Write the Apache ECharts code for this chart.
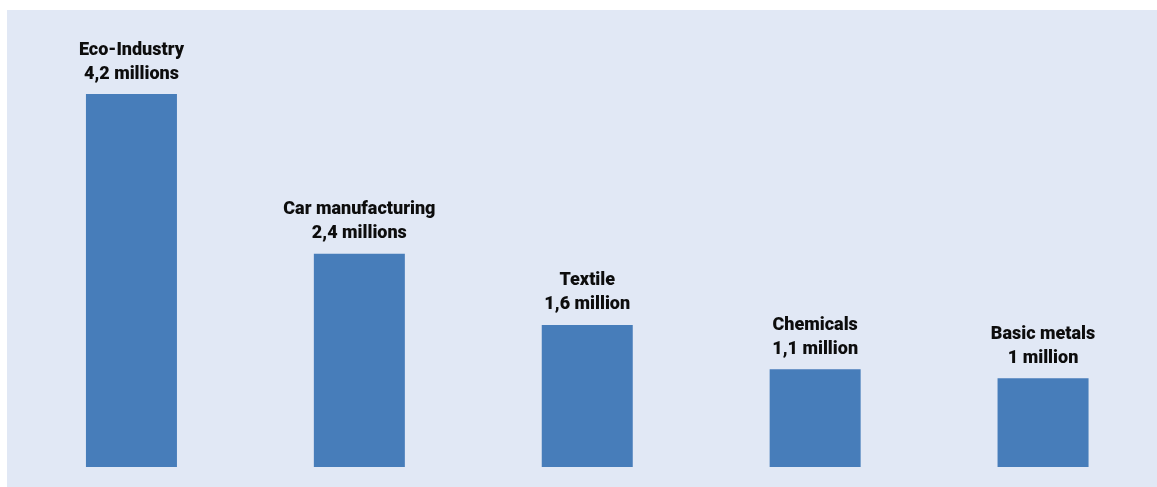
<!DOCTYPE html>
<html>
<head>
<meta charset="utf-8">
<script src="https://cdn.jsdelivr.net/npm/echarts@6/dist/echarts.min.js"></script>
<style>
  html, body { margin: 0; padding: 0; background: #ffffff; }
  #chart { width: 1157px; height: 487px; }
</style>
</head>
<body>
<div id="chart"></div>
<script>
// Jobs by industry (millions)
const sectors = ['Eco-Industry', 'Car manufacturing', 'Textile', 'Chemicals', 'Basic metals'];
const jobs = [4.2, 2.4, 1.6, 1.1, 1];
const units = ['millions', 'millions', 'million', 'million', 'million'];

const chart = echarts.init(document.getElementById('chart'));

function valueText(v, i) {
  return String(v).replace('.', ',') + ' ' + units[i];
}

chart.setOption({
  animation: false,
  graphic: [{
    type: 'rect',
    left: 7, top: 10,
    shape: { width: 1150, height: 477 },
    style: { fill: '#e1e8f5' },
    silent: true,
    z: -10
  }],
  grid: { left: 17.5, right: -0.5, top: 94, bottom: 20 },
  xAxis: {
    type: 'category',
    data: sectors,
    axisLine: { show: false },
    axisTick: { show: false },
    axisLabel: { show: false }
  },
  yAxis: {
    type: 'value',
    min: 0,
    max: 4.2,
    show: false,
    splitLine: { show: false }
  },
  series: [{
    type: 'bar',
    data: jobs,
    barWidth: 91,
    itemStyle: { color: '#477dba' },
    label: {
      show: true,
      position: 'top',
      distance: 8,
      fontFamily: 'Roboto',
      fontWeight: 900,
      fontSize: 18,
      lineHeight: 24,
      color: '#0d0d0d',
      align: 'center',
      formatter: p => p.name + '\n' + valueText(p.value, p.dataIndex)
    }
  }]
});
</script>
</body>
</html>
